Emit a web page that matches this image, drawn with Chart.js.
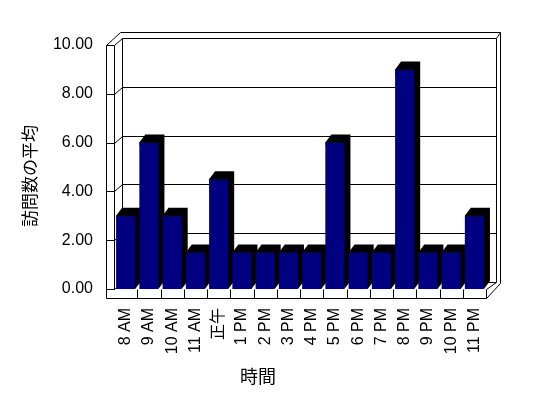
<!DOCTYPE html>
<html>
<head>
<meta charset="utf-8">
<script src="https://cdn.jsdelivr.net/npm/chart.js@4.4.1/dist/chart.umd.min.js"></script>
<style>
  html, body { margin: 0; padding: 0; background: #fff; }
  #wrap { width: 548px; height: 398px; }
</style>
</head>
<body>
<div id="wrap"><canvas id="visitChart" width="548" height="398"></canvas></div>
<script>
// data
const hours = ['8 AM', '9 AM', '10 AM', '11 AM', '正午', '1 PM', '2 PM', '3 PM',
  '4 PM', '5 PM', '6 PM', '7 PM', '8 PM', '9 PM', '10 PM', '11 PM'];
const avgVisits = [3, 6, 3, 1.5, 4.5, 1.5, 1.5, 1.5, 1.5, 6, 1.5, 1.5, 9, 1.5, 1.5, 3];
const yTicks = [0, 2, 4, 6, 8, 10];
const yTitle = '訪問数の平均';
const xTitle = '時間';

const FONT = '"Liberation Sans", "Noto Sans CJK JP", sans-serif';
const CJK = '"Noto Sans CJK JP", sans-serif';

// depth of the walls and of the bars (px)
const WALL = { dx: 8, dy: 7, thick: 8 };
const BAR = { dx: 6, dy: 8 };

const seg = (ctx, x1, y1, x2, y2) => {
  ctx.moveTo(Math.round(x1) + 0.5, Math.round(y1) + 0.5);
  ctx.lineTo(Math.round(x2) + 0.5, Math.round(y2) + 0.5);
};

const box3d = {
  id: 'box3d',
  beforeDatasetsDraw(chart) {
    const { ctx, chartArea: { left: L, right: R, top: T, bottom: B } } = chart;
    const yScale = chart.scales.y;
    const xScale = chart.scales.x;
    const { dx, dy, thick } = WALL;

    ctx.save();
    ctx.strokeStyle = '#000';
    ctx.lineWidth = 1;
    ctx.beginPath();
    // left wall front face
    seg(ctx, L - thick, T, L - thick, B + thick + 1);
    seg(ctx, L, T, L, B);
    // floor front face
    seg(ctx, L - thick, B + thick + 1, R, B + thick + 1);
    seg(ctx, R, B, R, B + thick + 1);
    // top edges of the walls
    seg(ctx, L - thick, T, L + dx - 2, T - 13);
    seg(ctx, L + dx - 2, T - 13, R + dx + 6, T - 13);
    seg(ctx, R + dx + 2, T - dy, R + dx + 6, T - 13);
    // back wall
    seg(ctx, L + dx, T - dy, L + dx, B - dy);
    seg(ctx, R + dx + 2, T - dy, R + dx + 2, B - dy);
    seg(ctx, R + dx + 6, T - 13, R + dx + 6, B - dy + 1);
    // floor right edges
    seg(ctx, R, B, R + dx + 2, B - dy);
    seg(ctx, R, B + thick + 1, R + dx + 6, B - dy + 1);
    // grid lines on left wall and back wall
    yTicks.forEach(v => {
      const y = yScale.getPixelForValue(v);
      seg(ctx, L - thick, y, L, y);
      seg(ctx, L, y, L + dx, y - dy);
      seg(ctx, L + dx, y - dy, R + dx + 2, y - dy);
    });
    // category ticks on the floor front
    const step = (R - L) / hours.length;
    for (let i = 1; i < hours.length; i++) {
      const x = L + i * step;
      seg(ctx, x, B, x, B + thick + 1);
    }
    ctx.stroke();

    // bar tops and sides
    ctx.fillStyle = '#000';
    chart.getDatasetMeta(0).data.forEach(bar => {
      const x0 = bar.x - bar.width / 2;
      const x1 = bar.x + bar.width / 2;
      ctx.beginPath();
      ctx.moveTo(x0, bar.y);
      ctx.lineTo(x0 + BAR.dx, bar.y - BAR.dy);
      ctx.lineTo(x1 + BAR.dx, bar.y - BAR.dy);
      ctx.lineTo(x1 + BAR.dx, bar.base - BAR.dy);
      ctx.lineTo(x1, bar.base);
      ctx.closePath();
      ctx.fill();
    });
    ctx.restore();
  },
  afterDraw(chart) {
    const { ctx } = chart;
    ctx.save();
    ctx.fillStyle = '#000';
    ctx.textAlign = 'center';
    ctx.textBaseline = 'middle';
    ctx.font = '17px ' + CJK;
    ctx.translate(30, 176);
    ctx.rotate(-Math.PI / 2);
    ctx.fillText(yTitle, 0, 0);
    ctx.restore();

    ctx.save();
    ctx.fillStyle = '#000';
    ctx.textAlign = 'center';
    ctx.textBaseline = 'middle';
    ctx.font = '18px ' + CJK;
    ctx.fillText(xTitle, 258, 376);
    ctx.restore();
  }
};

new Chart(document.getElementById('visitChart'), {
  type: 'bar',
  data: {
    labels: hours,
    datasets: [
      {
        label: yTitle,
        data: avgVisits,
        backgroundColor: '#000080',
        borderWidth: 0,
        barPercentage: 0.82,
        categoryPercentage: 1,
      },
    ],
  },
  options: {
    responsive: false,
    devicePixelRatio: 1,
    animation: false,
    layout: {
      padding: { top: 45, right: 62, bottom: 0, left: 0 },
    },
    plugins: {
      legend: { display: false },
      tooltip: { enabled: false },
    },
    scales: {
      x: {
        grid: { display: false, drawTicks: false },
        border: { display: false },
        ticks: {
          color: '#000',
          font: { family: FONT, size: 16 },
          maxRotation: 90,
          minRotation: 90,
          autoSkip: false,
          padding: 19,
        },
        afterFit: (scale) => { scale.height = 109; },
      },
      y: {
        min: 0,
        max: 10,
        grid: { display: false, drawTicks: false },
        border: { display: false },
        ticks: {
          stepSize: 2,
          color: '#000',
          font: { family: FONT, size: 16 },
          padding: 21,
          callback: (v) => v.toFixed(2),
        },
        afterFit: (scale) => { scale.width = 114; },
      },
    },
  },
  plugins: [box3d],
});
</script>
</body>
</html>
